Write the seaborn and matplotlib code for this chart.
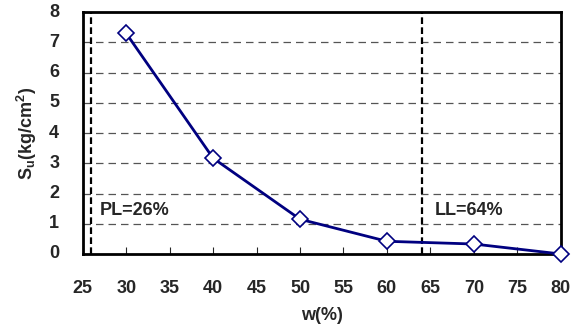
import pandas as pd
import numpy as np
import seaborn as sns
import matplotlib.pyplot as plt

# water content vs undrained shear strength
w_pct = [30, 40, 50, 60, 70, 80]
su = [7.3, 3.17, 1.15, 0.42, 0.33, 0.0]
limit_x = [26, 64]
limit_labels = ["PL=26%", "LL=64%"]
x_ticks = [25, 30, 35, 40, 45, 50, 55, 60, 65, 70, 75, 80]
y_ticks = [0, 1, 2, 3, 4, 5, 6, 7, 8]

sns.set_style("white")
plt.rcParams['font.family'] = ['Liberation Sans', 'DejaVu Sans']
plt.rcParams['font.weight'] = 'bold'
plt.rcParams['mathtext.fontset'] = 'custom'
plt.rcParams['mathtext.rm'] = 'Liberation Sans:bold'
plt.rcParams['mathtext.it'] = 'Liberation Sans:bold'
plt.rcParams['mathtext.bf'] = 'Liberation Sans:bold'

df = pd.DataFrame({"w": w_pct, "su": su})

fig, ax = plt.subplots(figsize=(5.71, 3.32), dpi=100)
fig.subplots_adjust(left=0.145, right=0.982, top=0.963, bottom=0.235)

# horizontal dashed grid
for y in y_ticks[1:-1]:
    ax.axhline(y, color="#555555", lw=0.9, ls=(0, (6, 4)), zorder=1)

for x in limit_x:
    ax.axvline(x, color="black", lw=1.6, ls=(0, (3, 1.5)), zorder=2)

sns.lineplot(data=df, x="w", y="su", ax=ax, color="#000080", lw=2,
             marker="D", markersize=8, markerfacecolor="white",
             markeredgecolor="#000080", markeredgewidth=1.2, zorder=3, clip_on=False)

ax.text(26.9, 1.45, limit_labels[0], fontsize=13, fontweight="bold", va="center")
ax.text(65.5, 1.45, limit_labels[1], fontsize=13, fontweight="bold", va="center")

ax.set_xlim(25, 80)
ax.set_ylim(0, 8)
ax.set_xticks(x_ticks)
ax.set_yticks(y_ticks)
ax.tick_params(axis="x", direction="in", length=5, width=0.8, pad=19, labelsize=13, bottom=True)
ax.tick_params(axis="y", length=0, pad=17, labelsize=13)
for lab in ax.get_xticklabels():
    lab.set_fontweight("bold")
for lab in ax.get_yticklabels():
    lab.set_fontweight("bold")
    lab.set_va("center")

ax.set_xlabel("w(%)", fontsize=13, fontweight="bold", labelpad=7)
ax.set_ylabel(r"S$_{u}$(kg/cm$^{2}$)", fontsize=13, fontweight="bold", labelpad=7)

for s in ax.spines.values():
    s.set_color("black")
    s.set_linewidth(2)

fig.savefig("out.png", dpi=100)
